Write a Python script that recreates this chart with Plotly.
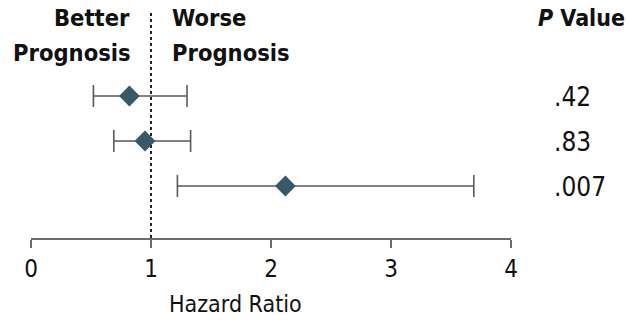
import plotly.graph_objects as go

rows = [1, 2, 3]
hr = [0.82, 0.95, 2.12]
ci_lo = [0.52, 0.69, 1.22]
ci_hi = [1.30, 1.33, 3.69]
p_values = [".42", ".83", ".007"]
tick_vals = [0, 1, 2, 3, 4]
tick_text = ["0", "1", "2", "3", "4"]

FONT = "DejaVu Sans Condensed, DejaVu Sans, sans-serif"
TXT = "#111111"

PLOT_TOP, PLOT_BOTTOM = 12, 238


def py(p):
    """pixel row -> paper y coordinate"""
    return (PLOT_BOTTOM - p) / (PLOT_BOTTOM - PLOT_TOP)


fig = go.Figure()
fig.add_trace(go.Scatter(
    x=hr, y=rows, mode="markers",
    marker=dict(symbol="diamond", size=16, color="#3a5968", line=dict(width=0)),
    error_x=dict(type="data", symmetric=False,
                 array=[h - m for h, m in zip(ci_hi, hr)],
                 arrayminus=[m - l for m, l in zip(hr, ci_lo)],
                 color="#5a5a5a", thickness=1.6, width=11),
    showlegend=False, hoverinfo="skip",
))

fig.add_shape(type="line", xref="x", yref="paper", x0=1, x1=1, y0=0, y1=1,
              line=dict(color="#222222", width=2, dash="dot"), layer="below")

for r, p in zip(rows, p_values):
    fig.add_annotation(x=1.085, y=r, xref="paper", yref="y", text=p, showarrow=False,
                       xanchor="left", yanchor="middle", yshift=-1,
                       font=dict(family=FONT, size=26, color=TXT))

hdr = dict(showarrow=False, yanchor="middle", font=dict(family=FONT, size=23.5, color=TXT))
fig.add_annotation(x=0.84, y=py(18), xref="x", yref="paper", text="<b>Better</b>",
                   xanchor="right", **hdr)
fig.add_annotation(x=0.85, y=py(53), xref="x", yref="paper", text="<b>Prognosis</b>",
                   xanchor="right", **hdr)
fig.add_annotation(x=1.16, y=py(18), xref="x", yref="paper", text="<b>Worse</b>",
                   xanchor="left", **hdr)
fig.add_annotation(x=1.16, y=py(53), xref="x", yref="paper", text="<b>Prognosis</b>",
                   xanchor="left", **hdr)
fig.add_annotation(x=1.052, y=py(18), xref="paper", yref="paper",
                   text="<b><i>P</i> Value</b>", xanchor="left", showarrow=False,
                   yanchor="middle", font=dict(family=FONT, size=23, color=TXT))
fig.add_annotation(x=0.427, y=py(304), xref="paper", yref="paper",
                   text="Hazard Ratio", showarrow=False,
                   xanchor="center", yanchor="middle",
                   font=dict(family=FONT, size=23, color=TXT))

fig.update_layout(
    width=628, height=321,
    margin=dict(l=31, r=117, t=PLOT_TOP, b=321 - PLOT_BOTTOM, autoexpand=False),
    plot_bgcolor="white", paper_bgcolor="white",
    font=dict(family=FONT, color=TXT),
    xaxis=dict(range=[0, 4], tickvals=tick_vals, ticktext=tick_text,
               showgrid=False, zeroline=False, showline=True,
               linecolor="#6a6a6a", linewidth=1.5,
               ticks="outside", ticklen=8, tickwidth=1.5, tickcolor="#6a6a6a",
               tickfont=dict(family=FONT, size=24, color=TXT),
               automargin=False),
    yaxis=dict(range=[4.156, -0.867], visible=False, showgrid=False, zeroline=False,
               automargin=False),
)

fig.write_html("out.html")
